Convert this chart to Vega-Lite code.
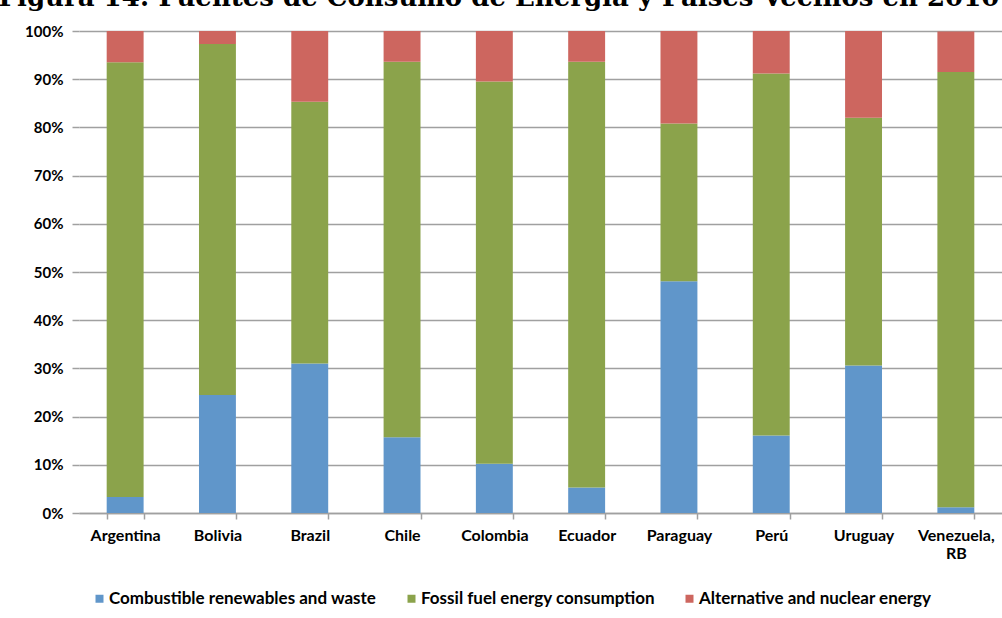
{
  "$schema": "https://vega.github.io/schema/vega-lite/v6.json",
  "width": 923,
  "height": 482,
  "autosize": "none",
  "padding": {"left": 79, "top": 31, "right": 0, "bottom": 105},
  "background": "white",
  "title": {
    "text": "Figura 14: Fuentes de Consumo de Energía y Países Vecinos en 2010",
    "anchor": "start",
    "font": "DejaVu Serif",
    "fontSize": 26,
    "fontWeight": "bold",
    "color": "#000000",
    "baseline": "alphabetic",
    "offset": 8,
    "dy": 16,
    "dx": -26
  },
  "data": {
    "values": [
      {"country": "Argentina", "type": "Combustible renewables and waste", "k": 1, "v": 3.3},
      {"country": "Argentina", "type": "Fossil fuel energy consumption", "k": 2, "v": 90.2},
      {"country": "Argentina", "type": "Alternative and nuclear energy", "k": 3, "v": 6.5},
      {"country": "Bolivia", "type": "Combustible renewables and waste", "k": 1, "v": 24.5},
      {"country": "Bolivia", "type": "Fossil fuel energy consumption", "k": 2, "v": 72.8},
      {"country": "Bolivia", "type": "Alternative and nuclear energy", "k": 3, "v": 2.7},
      {"country": "Brazil", "type": "Combustible renewables and waste", "k": 1, "v": 31.0},
      {"country": "Brazil", "type": "Fossil fuel energy consumption", "k": 2, "v": 54.3},
      {"country": "Brazil", "type": "Alternative and nuclear energy", "k": 3, "v": 14.7},
      {"country": "Chile", "type": "Combustible renewables and waste", "k": 1, "v": 15.7},
      {"country": "Chile", "type": "Fossil fuel energy consumption", "k": 2, "v": 77.9},
      {"country": "Chile", "type": "Alternative and nuclear energy", "k": 3, "v": 6.4},
      {"country": "Colombia", "type": "Combustible renewables and waste", "k": 1, "v": 10.2},
      {"country": "Colombia", "type": "Fossil fuel energy consumption", "k": 2, "v": 79.3},
      {"country": "Colombia", "type": "Alternative and nuclear energy", "k": 3, "v": 10.5},
      {"country": "Ecuador", "type": "Combustible renewables and waste", "k": 1, "v": 5.3},
      {"country": "Ecuador", "type": "Fossil fuel energy consumption", "k": 2, "v": 88.3},
      {"country": "Ecuador", "type": "Alternative and nuclear energy", "k": 3, "v": 6.4},
      {"country": "Paraguay", "type": "Combustible renewables and waste", "k": 1, "v": 48.1},
      {"country": "Paraguay", "type": "Fossil fuel energy consumption", "k": 2, "v": 32.7},
      {"country": "Paraguay", "type": "Alternative and nuclear energy", "k": 3, "v": 19.2},
      {"country": "Perú", "type": "Combustible renewables and waste", "k": 1, "v": 16.1},
      {"country": "Perú", "type": "Fossil fuel energy consumption", "k": 2, "v": 75.1},
      {"country": "Perú", "type": "Alternative and nuclear energy", "k": 3, "v": 8.8},
      {"country": "Uruguay", "type": "Combustible renewables and waste", "k": 1, "v": 30.6},
      {"country": "Uruguay", "type": "Fossil fuel energy consumption", "k": 2, "v": 51.4},
      {"country": "Uruguay", "type": "Alternative and nuclear energy", "k": 3, "v": 18.0},
      {"country": "Venezuela, RB", "type": "Combustible renewables and waste", "k": 1, "v": 1.2},
      {"country": "Venezuela, RB", "type": "Fossil fuel energy consumption", "k": 2, "v": 90.3},
      {"country": "Venezuela, RB", "type": "Alternative and nuclear energy", "k": 3, "v": 8.4}
    ]
  },
  "mark": {"type": "bar"},
  "encoding": {
    "x": {
      "field": "country",
      "type": "nominal",
      "sort": null,
      "scale": {"paddingInner": 0.6, "paddingOuter": 0.3},
      "axis": {
        "title": null,
        "labelAngle": 0,
        "labelFont": "Lato",
        "labelFontSize": 16,
        "labelFontWeight": "bold",
        "labelColor": "#000000",
        "labelPadding": 8,
        "labelLimit": 0,
        "labelExpr": "datum.label == 'Venezuela, RB' ? ['Venezuela,', 'RB'] : datum.label",
        "tickBand": "extent",
        "tickSize": 6,
        "tickColor": "#A0A0A0",
        "domainColor": "#A0A0A0",
        "domainWidth": 1.5,
        "tickWidth": 1.5
      }
    },
    "y": {
      "field": "v",
      "type": "quantitative",
      "stack": "zero",
      "scale": {"domain": [0, 100], "nice": false},
      "axis": {
        "title": null,
        "values": [0, 10, 20, 30, 40, 50, 60, 70, 80, 90, 100],
        "labelExpr": "datum.value + '%'",
        "labelFont": "Lato",
        "labelFontSize": 15,
        "labelFontWeight": "bold",
        "labelColor": "#000000",
        "labelPadding": 9,
        "domain": false,
        "tickSize": 7,
        "tickColor": "#A0A0A0",
        "tickWidth": 1.5,
        "gridColor": "#A0A0A0",
        "gridWidth": 1.5
      }
    },
    "color": {
      "field": "type",
      "type": "nominal",
      "scale": {
        "domain": ["Combustible renewables and waste", "Fossil fuel energy consumption", "Alternative and nuclear energy"],
        "range": ["#6096CA", "#8BA34B", "#CD665F"]
      },
      "legend": {
        "title": null,
        "orient": "none",
        "direction": "horizontal",
        "legendX": 12,
        "legendY": 559,
        "symbolType": "square",
        "symbolSize": 64,
        "symbolStrokeWidth": 0,
        "labelFont": "Lato",
        "labelFontSize": 17,
        "labelFontWeight": "bold",
        "labelColor": "#000000",
        "labelOffset": 1,
        "labelLimit": 0,
        "columnPadding": 26
      }
    },
    "order": {"field": "k", "type": "quantitative", "sort": "ascending"}
  },
  "config": {
    "view": {"stroke": null}
  }
}
